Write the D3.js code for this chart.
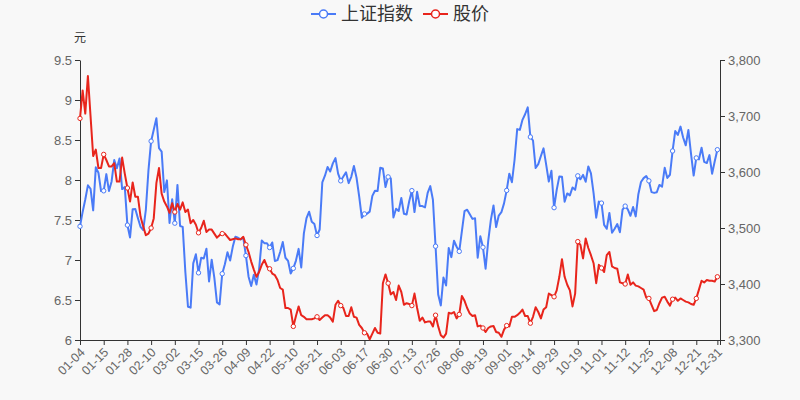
<!DOCTYPE html>
<html><head><meta charset="utf-8">
<script src="https://cdn.jsdelivr.net/npm/d3@7"></script>
<style>
html,body{margin:0;padding:0;background:#f8f8f8;}
svg{display:block;}
text{font-family:"Liberation Sans",Arial,"Noto Sans CJK SC",sans-serif;}
</style></head><body>
<svg id="chart" width="800" height="400"></svg>
<script>
const dates = [
"01-04","01-05","01-06","01-07","01-08","01-11","01-12","01-13","01-14","01-15","01-18","01-19","01-20","01-21","01-22","01-25","01-26","01-27","01-28","01-29",
"02-01","02-02","02-03","02-04","02-05","02-08","02-09","02-10","02-18","02-19","02-22","02-23","02-24","02-25","02-26",
"03-01","03-02","03-03","03-04","03-05","03-08","03-09","03-10","03-11","03-12","03-15","03-16","03-17","03-18","03-19","03-22","03-23","03-24","03-25","03-26","03-29","03-30","03-31",
"04-01","04-02","04-06","04-07","04-08","04-09","04-12","04-13","04-14","04-15","04-16","04-19","04-20","04-21","04-22","04-23","04-26","04-27","04-28","04-29","04-30",
"05-06","05-07","05-10","05-11","05-12","05-13","05-14","05-17","05-18","05-19","05-20","05-21","05-24","05-25","05-26","05-27","05-28","05-31",
"06-01","06-02","06-03","06-04","06-07","06-08","06-09","06-10","06-11","06-15","06-16","06-17","06-18","06-21","06-22","06-23","06-24","06-25","06-28","06-29","06-30",
"07-01","07-02","07-05","07-06","07-07","07-08","07-09","07-12","07-13","07-14","07-15","07-16","07-19","07-20","07-21","07-22","07-23","07-26","07-27","07-28","07-29","07-30",
"08-02","08-03","08-04","08-05","08-06","08-09","08-10","08-11","08-12","08-13","08-16","08-17","08-18","08-19","08-20","08-23","08-24","08-25","08-26","08-27","08-30","08-31",
"09-01","09-02","09-03","09-06","09-07","09-08","09-09","09-10","09-13","09-14","09-15","09-16","09-17","09-22","09-23","09-24","09-27","09-28","09-29","09-30",
"10-08","10-11","10-12","10-13","10-14","10-15","10-18","10-19","10-20","10-21","10-22","10-25","10-26","10-27","10-28","10-29",
"11-01","11-02","11-03","11-04","11-05","11-08","11-09","11-10","11-11","11-12","11-15","11-16","11-17","11-18","11-19","11-22","11-23","11-24","11-25","11-26","11-29","11-30",
"12-01","12-02","12-03","12-06","12-07","12-08","12-09","12-10","12-13","12-14","12-15","12-16","12-17","12-20","12-21","12-22","12-23","12-24","12-27","12-28","12-29","12-30","12-31"
];
const sseValues = [
3502.96,3528.68,3550.88,3576.20,3570.11,3531.50,3608.34,3598.65,3565.90,3566.38,3596.22,3566.27,3583.09,3621.26,3606.75,3624.24,3569.43,3573.34,3505.18,3483.07,
3533.68,3533.93,3517.31,3501.86,3496.33,3532.44,3603.49,3655.09,3675.36,3696.17,3642.44,3636.36,3564.08,3585.05,3509.08,
3551.40,3508.59,3576.90,3503.49,3501.99,3421.41,3359.29,3357.74,3436.83,3453.08,3419.95,3446.73,3445.55,3463.07,3404.66,3443.44,3411.51,3367.06,3363.59,3418.33,3435.30,3456.68,3441.91,
3466.33,3484.39,3482.55,3479.63,3482.48,3450.68,3412.95,3396.47,3416.36,3398.99,3426.62,3477.55,3472.94,3472.93,3465.11,3474.17,3441.17,3442.61,3457.07,3474.90,3446.86,
3441.28,3418.87,3427.99,3441.85,3462.75,3429.54,3490.38,3517.62,3529.01,3510.96,3506.94,3486.56,3497.28,3581.34,3593.36,3608.85,3600.78,3615.48,
3624.71,3597.14,3584.22,3591.84,3599.54,3580.11,3591.40,3610.86,3589.75,3556.56,3518.33,3525.10,3525.60,3529.18,3557.41,3566.65,3566.22,3607.56,3606.37,3573.18,3591.20,
3588.78,3518.76,3534.32,3530.26,3553.72,3525.50,3524.09,3547.84,3566.75,3528.50,3564.59,3539.30,3539.12,3536.79,3562.70,3574.73,3550.40,3467.44,3381.18,3361.59,3411.72,3397.36,
3464.29,3447.99,3477.22,3466.56,3458.23,3494.63,3529.93,3532.62,3524.74,3516.30,3517.35,3446.98,3485.29,3465.55,3427.33,3477.13,3514.47,3540.38,3501.66,3522.16,3528.15,3543.94,
3567.10,3597.04,3581.73,3621.86,3676.59,3675.19,3693.13,3703.11,3715.37,3662.60,3656.22,3607.09,3613.97,3628.49,3642.22,3613.07,3582.83,3602.22,3536.29,3568.17,
3592.17,3591.71,3546.94,3561.76,3558.28,3572.37,3568.14,3593.15,3587.00,3594.78,3582.60,3609.86,3597.64,3562.31,3518.42,3547.34,
3544.48,3505.63,3498.54,3526.87,3491.57,3498.63,3507.00,3492.46,3532.79,3539.10,3533.30,3521.79,3537.37,3520.71,3560.37,3582.08,3589.09,3592.70,3584.18,3564.09,3562.70,3563.89,
3576.89,3573.84,3607.43,3589.31,3595.09,3637.57,3673.04,3666.35,3681.08,3661.53,3647.63,3675.02,3632.36,3593.60,3625.13,3622.62,3643.34,3618.05,3615.97,3630.11,3597.00,3619.19,3639.78
];
const priceValues = [
8.77,9.12,8.83,9.30,8.80,8.30,8.38,8.15,8.15,8.32,8.25,8.17,8.17,8.21,7.98,7.98,8.28,8.08,7.90,7.73,
7.97,7.79,7.79,7.54,7.42,7.31,7.33,7.40,7.52,7.96,8.15,7.83,7.73,7.67,7.59,
7.71,7.60,7.70,7.63,7.72,7.60,7.63,7.46,7.50,7.44,7.34,7.40,7.49,7.35,7.38,7.38,7.33,7.28,7.31,7.33,7.33,7.29,7.25,
7.26,7.27,7.26,7.26,7.29,7.19,7.10,6.98,6.88,6.79,6.85,6.94,7.00,6.92,6.89,6.83,6.81,6.75,6.65,6.63,6.40,
6.40,6.38,6.17,6.30,6.42,6.31,6.29,6.26,6.26,6.26,6.27,6.29,6.25,6.28,6.31,6.31,6.28,6.23,
6.44,6.49,6.43,6.40,6.30,6.30,6.41,6.29,6.28,6.19,6.15,6.09,6.08,6.01,6.08,6.15,6.09,6.08,6.71,6.82,6.71,
6.57,6.60,6.50,6.68,6.60,6.44,6.46,6.45,6.43,6.58,6.40,6.24,6.28,6.22,6.23,6.23,6.17,6.31,6.17,6.06,6.03,6.08,
6.34,6.33,6.35,6.27,6.32,6.55,6.49,6.40,6.33,6.30,6.31,6.17,6.18,6.15,6.10,6.15,6.17,6.175,6.10,6.09,6.04,6.13,
6.18,6.17,6.29,6.29,6.31,6.34,6.38,6.30,6.30,6.21,6.29,6.41,6.35,6.27,6.38,6.41,6.58,6.56,6.54,6.62,
6.79,7.01,6.79,6.69,6.62,6.42,6.58,7.23,7.19,7.02,7.27,7.15,7.06,6.96,6.71,6.94,
6.90,6.85,7.06,7.10,6.92,6.90,6.89,6.72,6.71,6.70,6.82,6.69,6.72,6.68,6.67,6.65,6.63,6.53,6.52,6.44,6.36,6.375,
6.46,6.53,6.54,6.48,6.43,6.51,6.53,6.49,6.52,6.50,6.48,6.47,6.45,6.44,6.52,6.63,6.74,6.72,6.75,6.74,6.74,6.73,6.79
];
const leftTicks = [6, 6.5, 7, 7.5, 8, 8.5, 9, 9.5];
const rightTicks = [3300, 3400, 3500, 3600, 3700, 3800];
const seriesNames = ["上证指数", "股价"];
const leftUnit = "元";

const colors = {sse: "#4a7bf7", price: "#e8251c"};
const W = 800, H = 400;
const plot = {left: 80, right: 720, top: 60, bottom: 340};

const svg = d3.select('#chart');
svg.append('rect').attr('width', W).attr('height', H).attr('fill', '#f8f8f8');

const x = d3.scaleLinear().domain([0, dates.length]).range([plot.left, plot.right]);
const yL = d3.scaleLinear().domain([6, 9.5]).range([plot.bottom, plot.top]);
const yR = d3.scaleLinear().domain([3300, 3800]).range([plot.bottom, plot.top]);

const labelIdx = d3.range(0, dates.length, 9);
if (labelIdx[labelIdx.length - 1] !== dates.length - 1) labelIdx.push(dates.length - 1);

function styleAxis(g) {
  g.select('.domain').attr('stroke', '#333').attr('stroke-width', 1);
  g.selectAll('.tick line').attr('stroke', '#333');
  g.selectAll('.tick text').attr('fill', '#666').style('font-size', '13px');
}

// left axis
const gL = svg.append('g').attr('transform', `translate(${plot.left},0)`)
  .call(d3.axisLeft(yL).tickValues(leftTicks).tickSize(5).tickPadding(3).tickSizeOuter(0).tickFormat(d3.format('')));
styleAxis(gL);
// right axis
const gR = svg.append('g').attr('transform', `translate(${plot.right},0)`)
  .call(d3.axisRight(yR).tickValues(rightTicks).tickSize(5).tickPadding(3).tickSizeOuter(0).tickFormat(d3.format(',')));
styleAxis(gR);
// bottom axis
const gB = svg.append('g').attr('transform', `translate(0,${plot.bottom})`)
  .call(d3.axisBottom(x).tickValues(labelIdx.concat([dates.length])).tickSize(5).tickSizeOuter(0)
    .tickFormat(i => dates[i] || ''));
styleAxis(gB);
gB.selectAll('.tick text')
  .attr('text-anchor', 'end')
  .attr('dy', '0.35em')
  .attr('y', 0)
  .attr('transform', 'translate(2,10) rotate(-45)')
  .style('font-size', '12.5px');

// unit label
svg.append('text').attr('x', plot.left).attr('y', 42).attr('text-anchor', 'middle')
  .attr('fill', '#333').style('font-size', '12px').text(leftUnit);

// lines
const lineSSE = d3.line().x((d, i) => x(i)).y(d => yR(d));
const linePrice = d3.line().x((d, i) => x(i)).y(d => yL(d));

svg.append('path').datum(sseValues).attr('d', lineSSE)
  .attr('fill', 'none').attr('stroke', colors.sse).attr('stroke-width', 2).attr('stroke-linejoin', 'round');
svg.append('path').datum(priceValues).attr('d', linePrice)
  .attr('fill', 'none').attr('stroke', colors.price).attr('stroke-width', 2).attr('stroke-linejoin', 'round');

// markers
svg.append('g').selectAll('circle').data(labelIdx).join('circle')
  .attr('cx', i => x(i)).attr('cy', i => yR(sseValues[i])).attr('r', 2.2)
  .attr('fill', '#fff').attr('stroke', colors.sse).attr('stroke-width', 1);
svg.append('g').selectAll('circle').data(labelIdx).join('circle')
  .attr('cx', i => x(i)).attr('cy', i => yL(priceValues[i])).attr('r', 2.2)
  .attr('fill', '#fff').attr('stroke', colors.price).attr('stroke-width', 1);

// legend
const legend = svg.append('g');
const legendColors = [colors.sse, colors.price];
const items = seriesNames.map((name, k) => {
  const g = legend.append('g');
  g.append('line').attr('x1', 0).attr('x2', 25).attr('y1', 0).attr('y2', 0)
    .attr('stroke', legendColors[k]).attr('stroke-width', 2);
  g.append('circle').attr('cx', 12.5).attr('cy', 0).attr('r', 4)
    .attr('fill', '#fff').attr('stroke', legendColors[k]).attr('stroke-width', 1.5);
  const t = g.append('text').attr('x', 30).attr('y', 0).attr('dy', '0.35em')
    .attr('fill', '#333').style('font-size', '18px').text(name);
  return {g, w: 30 + t.node().getComputedTextLength()};
});
const totalW = d3.sum(items, d => d.w) + 10 * (items.length - 1);
let cx = W / 2 - totalW / 2;
items.forEach(it => { it.g.attr('transform', `translate(${cx},14)`); cx += it.w + 10; });
</script>
</body></html>
